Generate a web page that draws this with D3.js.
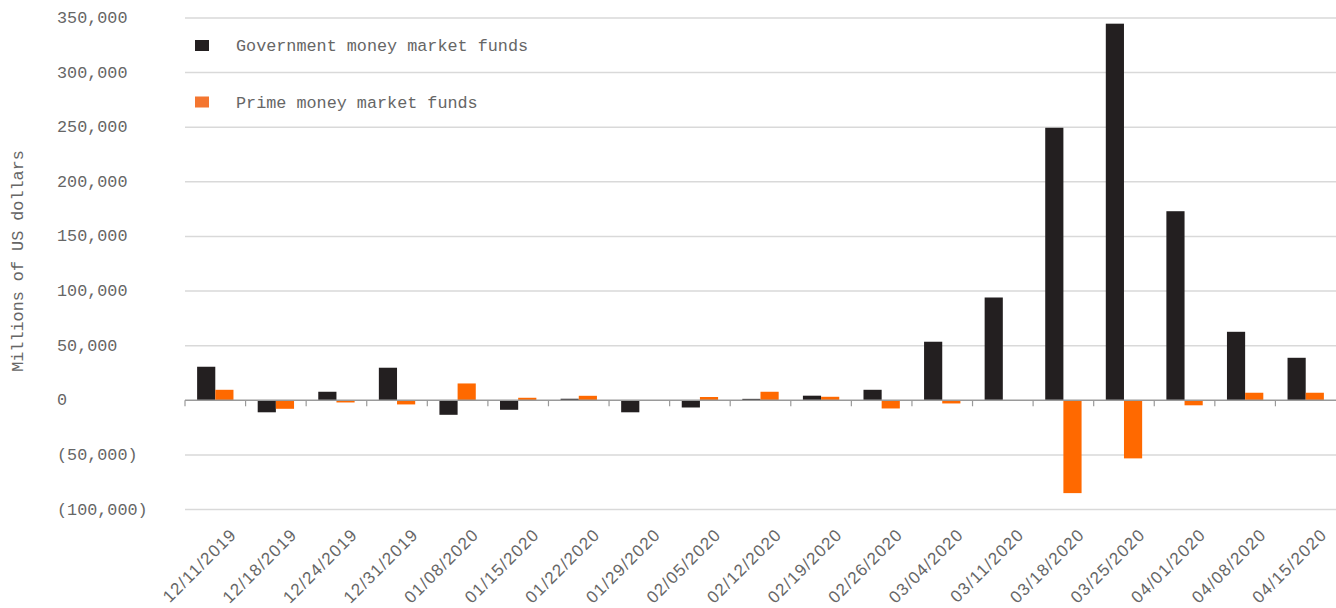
<!DOCTYPE html>
<html>
<head>
<meta charset="utf-8">
<script src="https://cdn.jsdelivr.net/npm/d3@7"></script>
<style>
  body { margin: 0; background: #fff; }
  text { font-family: "Liberation Mono", "DejaVu Sans Mono", monospace; fill: #666; }
  .xlabel { font-family: "Liberation Sans", Arial, sans-serif; }
</style>
</head>
<body>
<div id="chart"></div>
<script>
const dates = ["12/11/2019", "12/18/2019", "12/24/2019", "12/31/2019", "01/08/2020", "01/15/2020",
  "01/22/2020", "01/29/2020", "02/05/2020", "02/12/2020", "02/19/2020", "02/26/2020", "03/04/2020",
  "03/11/2020", "03/18/2020", "03/25/2020", "04/01/2020", "04/08/2020", "04/15/2020"];

const government = [30700, -11000, 7800, 29800, -13300, -8700, 1400, -11000, -6600, 1300,
  4200, 9600, 53600, 94100, 249500, 344800, 173100, 62700, 38900];

const prime = [9600, -7800, -2000, -3800, 15400, 2300, 4100, 0, 3000, 7800,
  3200, -7500, -2900, 0, -85000, -53200, -4600, 6900, 6900];

const yTicks = [-100000, -50000, 0, 50000, 100000, 150000, 200000, 250000, 300000, 350000];

const seriesNames = ["Government money market funds", "Prime money market funds"];
const seriesColors = ["#231f20", "#ff6900"];
const legendColors = ["#231f20", "#f47630"];

const width = 1336,
  height = 608;
const margin = { top: 18, right: 0, bottom: 98, left: 185 };

const svg = d3.select("#chart")
  .append("svg")
  .attr("width", width)
  .attr("height", height);

const x = d3.scaleBand()
  .domain(dates)
  .range([margin.left, width - margin.right])
  .paddingInner(0.4)
  .paddingOuter(0.2);

const x1 = d3.scaleBand()
  .domain([0, 1])
  .range([0, x.bandwidth()]);

const y = d3.scaleLinear()
  .domain([-100000, 350000])
  .range([height - margin.bottom - 0.5, margin.top]);

const fmt = v => v < 0 ? "(" + d3.format(",")(-v) + ")" : d3.format(",")(v);

// gridlines
svg.append("g")
  .selectAll("line")
  .data(yTicks.filter(d => d !== 0))
  .join("line")
  .attr("x1", margin.left)
  .attr("x2", width)
  .attr("y1", d => y(d))
  .attr("y2", d => y(d))
  .attr("stroke", "#d9d9d9")
  .attr("stroke-width", 1.5);

// y labels
svg.append("g")
  .selectAll("text")
  .data(yTicks)
  .join("text")
  .attr("x", 57)
  .attr("y", d => y(d))
  .attr("dy", "0.3em")
  .style("font-size", "16.8px")
  .text(fmt);

svg.append("text")
  .attr("transform", `translate(23,261) rotate(-90)`)
  .attr("text-anchor", "middle")
  .style("font-size", "16.8px")
  .text("Millions of US dollars");

// bars
const groups = svg.append("g")
  .selectAll("g")
  .data(dates.map((d, i) => ({ date: d, values: [government[i], prime[i]] })))
  .join("g")
  .attr("transform", d => `translate(${x(d.date)},0)`);

groups.selectAll("rect")
  .data(d => d.values)
  .join("rect")
  .attr("x", (d, i) => x1(i))
  .attr("width", x1.bandwidth())
  .attr("y", d => y(Math.max(0, d)))
  .attr("height", d => Math.abs(y(d) - y(0)))
  .attr("fill", (d, i) => seriesColors[i]);

// zero axis with ticks at band boundaries
svg.append("line")
  .attr("x1", margin.left)
  .attr("x2", width)
  .attr("y1", y(0))
  .attr("y2", y(0))
  .attr("stroke", "#9a9a9a")
  .attr("stroke-width", 1.5);

svg.append("g")
  .selectAll("line")
  .data(dates)
  .join("line")
  .attr("x1", d => x(d) - x.step() * 0.2)
  .attr("x2", d => x(d) - x.step() * 0.2)
  .attr("y1", y(0))
  .attr("y2", y(0) + 6)
  .attr("stroke", "#9a9a9a")
  .attr("stroke-width", 1.2);

// x labels
svg.append("g")
  .selectAll("text")
  .data(dates)
  .join("text")
  .attr("class", "xlabel")
  .attr("transform", d => `translate(${x(d) + x.bandwidth() / 2 + 18},${y(-100000) + 22}) rotate(-45)`)
  .attr("text-anchor", "end")
  .attr("dy", "0.35em")
  .style("font-size", "17px")
  .style("letter-spacing", "1.2px")
  .text(d => d);

// legend
const legend = svg.append("g")
  .selectAll("g")
  .data(seriesNames)
  .join("g")
  .attr("transform", (d, i) => `translate(195,${46 + i * 56.5})`);

legend.append("rect")
  .attr("y", -6)
  .attr("width", 14)
  .attr("height", 11)
  .attr("fill", (d, i) => legendColors[i]);

legend.append("text")
  .attr("x", 41)
  .attr("dy", "0.32em")
  .style("font-size", "16.8px")
  .text(d => d);
</script>
</body>
</html>
